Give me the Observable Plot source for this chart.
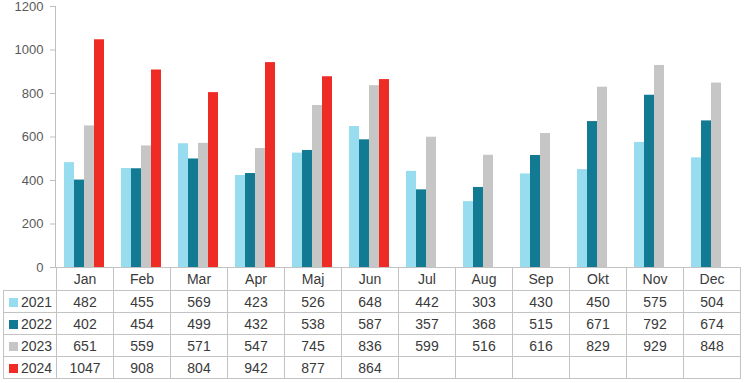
<!DOCTYPE html>
<html><head><meta charset="utf-8">
<script src="https://cdn.jsdelivr.net/npm/d3@7"></script>
<script src="https://cdn.jsdelivr.net/npm/@observablehq/plot@0.6"></script>
<style>
body{margin:0;background:#fff;font-family:"Liberation Sans",Arial,sans-serif;}
#wrap{position:relative;width:746px;height:383px;overflow:hidden;}
#chart svg{display:block;}
table{border-collapse:collapse;table-layout:fixed;position:absolute;left:3px;top:267px;width:737px;font-size:14px;color:#3a3a3a;}
td{border:1px solid #c3c3c3;text-align:center;padding:0;height:21px;line-height:20px;white-space:nowrap;}
tr.head td{height:22px;}
tr.head td.blank{border-top:none;border-left:none;}
td.leg{text-align:left;padding-left:5px;}
.sw{display:inline-block;width:9px;height:9px;margin-right:3px;vertical-align:0px;}
</style></head>
<body><div id="wrap"><div id="chart"></div></div>
<script>
const months = ["Jan","Feb","Mar","Apr","Maj","Jun","Jul","Aug","Sep","Okt","Nov","Dec"];
const years = ["2021","2022","2023","2024"];
const v2021 = [482,455,569,423,526,648,442,303,430,450,575,504];
const v2022 = [402,454,499,432,538,587,357,368,515,671,792,674];
const v2023 = [651,559,571,547,745,836,599,516,616,829,929,848];
const v2024 = [1047,908,804,942,877,864,null,null,null,null,null,null];
const yTicks = [0,200,400,600,800,1000,1200];
const colors = ["#98dcf0","#137a93","#c6c6c6","#ee2b25"];

const series = [v2021,v2022,v2023,v2024];
const data = [];
years.forEach((y,i)=>series[i].forEach((v,j)=>{ if(v!=null) data.push({month:months[j],year:y,value:v}); }));

const plot = Plot.plot({
  width:746, height:383,
  marginLeft:56, marginRight:6, marginTop:6, marginBottom:116,
  style:{fontFamily:'"Liberation Sans",Arial,sans-serif', fontSize:"13px", color:"#595959", background:"#fff"},
  fx:{domain:months, padding:0, axis:null, label:null},
  x:{domain:years, paddingInner:0, paddingOuter:0.74, align:0.45, axis:null},
  y:{domain:[0,1200], axis:null},
  color:{domain:years, range:colors},
  marks:[
    Plot.barY(data,{fx:"month", x:"year", y:"value", fill:"year"}),
    Plot.frame({anchor:"left", facetAnchor:"left", stroke:"#bfbfbf", dx:-1}),
    Plot.axisY({ticks:yTicks, tickFormat:d=>String(d), tickSize:5, tickPadding:7, stroke:"#bfbfbf", fill:"#595959", facetAnchor:"left", label:null, dx:-1})
  ]
});
document.getElementById("chart").appendChild(plot);

// data table under the chart, built from the same arrays
const t = document.createElement("table");
const cg = document.createElement("colgroup");
const c0 = document.createElement("col"); c0.style.width = "53px"; cg.appendChild(c0);
months.forEach(()=>{ const c=document.createElement("col"); c.style.width="57px"; cg.appendChild(c); });
t.appendChild(cg);
const hr = document.createElement("tr"); hr.className="head";
const b = document.createElement("td"); b.className="blank"; hr.appendChild(b);
months.forEach(m=>{ const td=document.createElement("td"); td.textContent=m; hr.appendChild(td); });
t.appendChild(hr);
years.forEach((y,i)=>{
  const tr=document.createElement("tr");
  const lg=document.createElement("td"); lg.className="leg";
  const sw=document.createElement("span"); sw.className="sw"; sw.style.background=colors[i];
  lg.appendChild(sw); lg.appendChild(document.createTextNode(y)); tr.appendChild(lg);
  series[i].forEach(v=>{ const td=document.createElement("td"); td.textContent = v==null?"":v; tr.appendChild(td); });
  t.appendChild(tr);
});
document.getElementById("wrap").appendChild(t);
</script>
</body></html>
